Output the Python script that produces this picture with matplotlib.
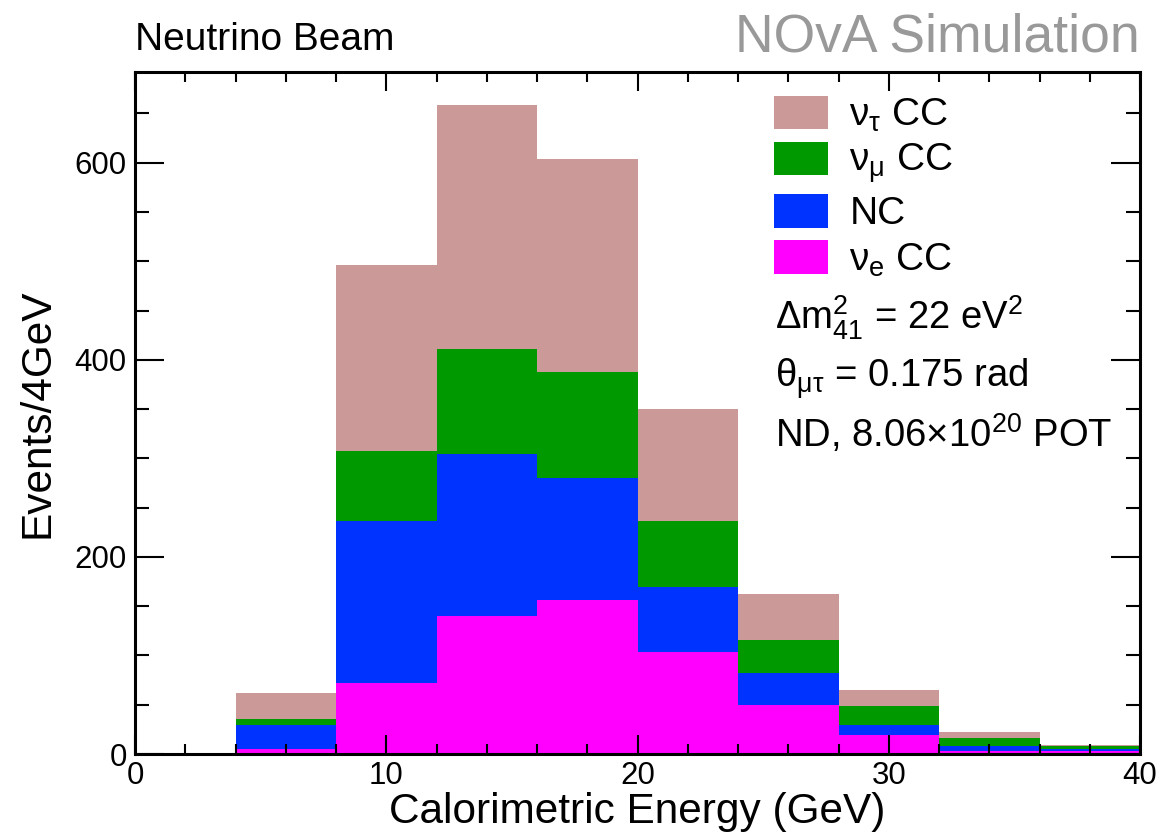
import matplotlib
matplotlib.use("Agg")
import matplotlib.pyplot as plt
from matplotlib.patches import Patch
from matplotlib.ticker import MultipleLocator

plt.rcParams['font.family'] = ['Liberation Sans', 'DejaVu Sans']
plt.rcParams['mathtext.fontset'] = 'custom'
plt.rcParams['mathtext.rm'] = 'Liberation Sans'
plt.rcParams['mathtext.it'] = 'Liberation Sans'
plt.rcParams['mathtext.default'] = 'rm'

# bin edges (GeV), 4 GeV bins
bin_lo = [0, 4, 8, 12, 16, 20, 24, 28, 32, 36]
# events per bin for each component (stacked bottom -> top)
nue_cc  = [0, 5, 72, 140, 156, 103, 50, 19, 3.4, 3.0]
nc      = [0, 24, 164, 164, 124, 66, 32, 10, 5.0, 2.5]
numu_cc = [0, 7, 71, 107, 108, 67, 34, 20, 8.0, 2.5]
nutau_cc = [0, 26, 189, 248, 216, 114, 46, 16, 5.5, 1.0]

c_nutau = '#cc9999'
c_numu = '#009900'
c_nc = '#0033ff'
c_nue = '#ff00ff'

fig = plt.figure(figsize=(11.6, 8.35), dpi=100)
ax = fig.add_axes([135/1160, 81/835, 1005/1160, 682/835])

bottom = [0.0]*len(bin_lo)
for vals, col in [(nue_cc, c_nue), (nc, c_nc), (numu_cc, c_numu), (nutau_cc, c_nutau)]:
    ax.bar(bin_lo, vals, width=4, align='edge', bottom=bottom, color=col,
           edgecolor='none', linewidth=0)
    bottom = [b + v for b, v in zip(bottom, vals)]

ax.set_xlim(0, 40)
ax.set_ylim(0, 692)
ax.xaxis.set_major_locator(MultipleLocator(10))
ax.xaxis.set_minor_locator(MultipleLocator(2))
ax.yaxis.set_major_locator(MultipleLocator(200))
ax.yaxis.set_minor_locator(MultipleLocator(50))
ax.tick_params(which='both', direction='in', top=True, right=True, width=1.5,
               labelsize=22.5, colors='black')
ax.tick_params(axis='x', which='major', length=14, pad=5)
ax.tick_params(axis='x', which='minor', length=7)
ax.tick_params(axis='y', which='major', length=21, pad=6)
ax.tick_params(axis='y', which='minor', length=10)
for s in ax.spines.values():
    s.set_linewidth(2.2)

ax.set_xlabel('Calorimetric Energy (GeV)', fontsize=30.5, labelpad=1)
ax.set_ylabel('Events/4GeV', fontsize=30.5, labelpad=12)

handles = [Patch(facecolor=c_nutau, label='$\\mathrm{ν_{τ}}$ CC'),
           Patch(facecolor=c_numu, label='$\\mathrm{ν_{μ}}$ CC'),
           Patch(facecolor=c_nc, label='NC'),
           Patch(facecolor=c_nue, label='$\\mathrm{ν_{e}}$ CC')]
ax.legend(handles=handles, loc='upper left', bbox_to_anchor=(0.62, 0.988),
          frameon=False, fontsize=28, handlelength=1.4, handleheight=0.95,
          labelspacing=0.2, handletextpad=0.55, borderaxespad=0)

ax.text(0.637, 0.622, 'Δm$^{2}_{41}$ = 22 eV$^{2}$', transform=ax.transAxes,
        fontsize=27.5, va='baseline')
ax.text(0.637, 0.537, 'θ$_{μτ}$ = 0.175 rad', transform=ax.transAxes,
        fontsize=27.5, va='baseline')
ax.text(0.637, 0.450, 'ND, 8.06×10$^{20}$ POT', transform=ax.transAxes,
        fontsize=27.5, va='baseline')

fig.text(135/1160, 1 - 50/835, 'Neutrino Beam', fontsize=28, va='baseline')
fig.text(1140/1160, 1 - 52/835, 'NOvA Simulation', fontsize=38.5, va='baseline',
         ha='right', color='#999999')

fig.savefig('out.png', dpi=100)
